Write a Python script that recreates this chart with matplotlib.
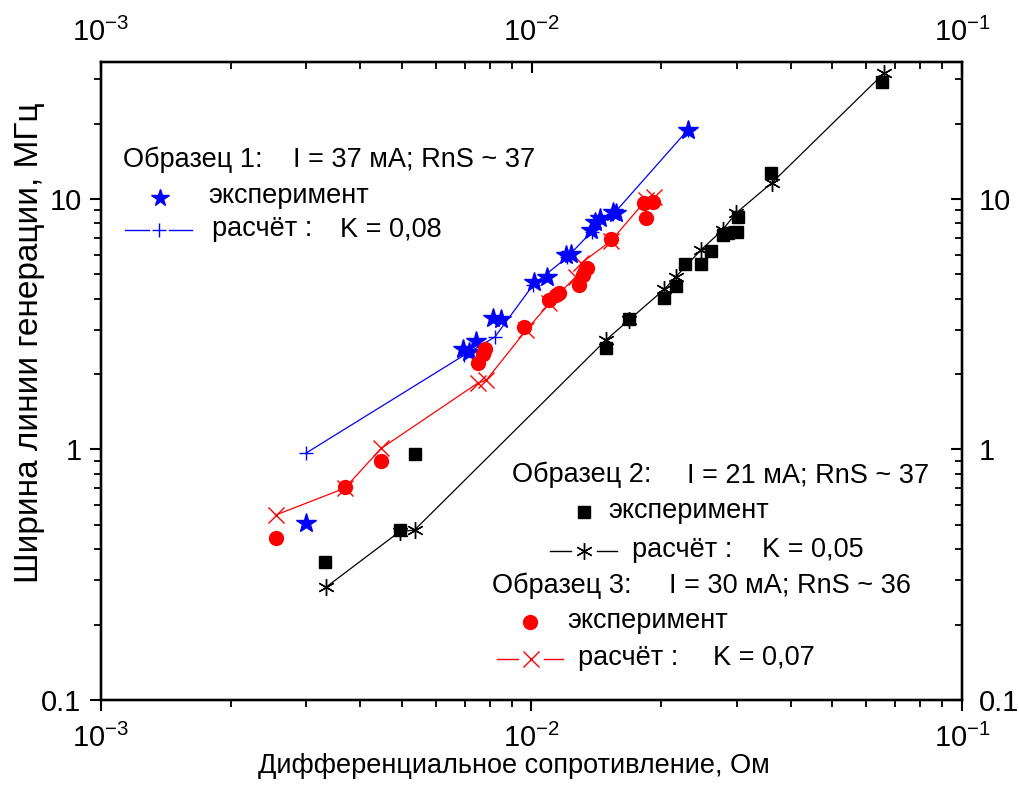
import math
import matplotlib
matplotlib.use('Agg')
import matplotlib.pyplot as plt
from matplotlib.ticker import LogLocator, FuncFormatter, NullFormatter
from matplotlib.lines import Line2D

# ---------------- data ----------------
# Sample 1 (blue): experiment (stars) and calculation (+)
s1_exp_x = [0.00300, 0.00695, 0.00717, 0.00744, 0.00813, 0.00851, 0.01011, 0.01085,
            0.01204, 0.01236, 0.01376, 0.01401, 0.01439, 0.01544, 0.01572, 0.02305]
s1_exp_y = [0.507, 2.51, 2.45, 2.72, 3.34, 3.31, 4.68, 4.90,
            5.98, 6.03, 7.52, 8.12, 8.37, 8.90, 8.77, 18.86]
s1_calc_x = [0.00299, 0.00698, 0.00822, 0.0101, 0.0121, 0.0138, 0.0155, 0.0231]
s1_calc_y = [0.966, 2.38, 2.81, 4.55, 5.85, 7.4, 8.7, 18.9]

# Sample 2 (black): experiment (squares) and calculation (asterisks)
s2_exp_x = [0.00331, 0.00494, 0.00535, 0.01491, 0.01689, 0.02035, 0.02166, 0.02277,
            0.02476, 0.02612, 0.02779, 0.02855, 0.02995, 0.03011, 0.03598, 0.06533]
s2_exp_y = [0.356, 0.477, 0.959, 2.535, 3.31, 4.02, 4.50, 5.50,
            5.50, 6.20, 7.18, 7.30, 7.40, 8.50, 12.66, 29.4]
s2_calc_x = [0.00334, 0.00494, 0.00535, 0.01491, 0.01689, 0.02035, 0.02166, 0.02476,
             0.02779, 0.02985, 0.03618, 0.06592]
s2_calc_y = [0.283, 0.470, 0.477, 2.74, 3.30, 4.36, 4.90, 6.26,
             7.52, 8.77, 11.6, 31.8]

# Sample 3 (red): experiment (circles) and calculation (x)
s3_exp_x = [0.00255, 0.00368, 0.00448, 0.00750, 0.00772, 0.00778, 0.00963, 0.01101,
            0.01141, 0.01161, 0.01292, 0.01320, 0.01349, 0.01530, 0.01846, 0.01829, 0.01911]
s3_exp_y = [0.442, 0.710, 0.902, 2.21, 2.40, 2.52, 3.09, 3.95,
            4.14, 4.23, 4.54, 4.97, 5.30, 6.90, 8.37, 9.61, 9.75]
s3_calc_x = [0.00255, 0.00368, 0.00448, 0.00750, 0.00785, 0.00973, 0.01101, 0.01269,
             0.01304, 0.01530, 0.01846, 0.01930]
s3_calc_y = [0.548, 0.700, 1.011, 1.84, 1.89, 3.00, 3.83, 4.90,
             5.54, 6.8, 9.91, 10.2]

x_limits = [1e-3, 1e-1]
y_limits = [0.1, 35.2]

xlabel = "Дифференциальное сопротивление, Ом"
ylabel = "Ширина линии генерации, МГц"

# ---------------- style ----------------
FONT = ['Liberation Sans', 'DejaVu Sans']
plt.rcParams['font.family'] = FONT
plt.rcParams['mathtext.fontset'] = 'custom'
plt.rcParams['mathtext.rm'] = 'Liberation Sans'
plt.rcParams['mathtext.it'] = 'Liberation Sans:italic'
plt.rcParams['mathtext.bf'] = 'Liberation Sans:bold'

W, H = 1020, 785
fig = plt.figure(figsize=(W / 100, H / 100), dpi=100)
L, R, T, B = 101, 962, 62, 700
ax = fig.add_axes([L / W, 1 - B / H, (R - L) / W, (B - T) / H])

BLUE = '#0000ff'
RED = '#ff0000'
BLACK = '#000000'
ASTER = (6, 2, 0)

# calculation lines
ax.plot(s1_calc_x, s1_calc_y, color=BLUE, lw=0.9, marker='+', ms=10, mew=1.0, zorder=2)
ax.plot(s2_calc_x, s2_calc_y, color=BLACK, lw=0.9, marker=ASTER, ms=12, mew=1.0, zorder=2)
ax.plot(s3_calc_x, s3_calc_y, color=RED, lw=0.9, marker='x', ms=11, mew=1.0, zorder=2)
# experiments
ax.plot(s1_exp_x, s1_exp_y, linestyle='none', marker='*', ms=15, color=BLUE, mec=BLUE, zorder=3)
ax.plot(s2_exp_x, s2_exp_y, linestyle='none', marker='s', ms=9, color=BLACK, zorder=3)
ax.plot(s3_exp_x, s3_exp_y, linestyle='none', marker='o', ms=10, color=RED, zorder=3)

ax.set_xscale('log')
ax.set_yscale('log')
ax.set_xlim(*x_limits)
ax.set_ylim(*y_limits)


def ylab(v, pos):
    return '%g' % v


def xlab(v, pos):
    e = int(round(math.log10(v)))
    return r'$\mathregular{10^{%d}}$' % e


def setup_x(a):
    a.xaxis.set_major_locator(LogLocator(base=10, numticks=10))
    a.xaxis.set_minor_locator(LogLocator(base=10, subs=range(2, 10), numticks=20))
    a.xaxis.set_major_formatter(FuncFormatter(xlab))
    a.xaxis.set_minor_formatter(NullFormatter())


def setup_y(a):
    a.yaxis.set_major_locator(LogLocator(base=10, numticks=10))
    a.yaxis.set_minor_locator(LogLocator(base=10, subs=range(2, 10), numticks=20))
    a.yaxis.set_major_formatter(FuncFormatter(ylab))
    a.yaxis.set_minor_formatter(NullFormatter())


setup_x(ax)
setup_y(ax)
ax.tick_params(which='major', direction='out', length=8, width=1.5, labelsize=21, pad=6)
ax.tick_params(which='minor', direction='out', length=5, width=1.3)
ax.tick_params(axis='x', which='major', pad=9)

# top axis
axt = ax.twiny()
axt.set_xscale('log')
axt.set_xlim(*x_limits)
setup_x(axt)
axt.tick_params(which='major', direction='in', length=8, width=1.5, labelsize=21, pad=11)
axt.tick_params(which='minor', direction='in', length=5, width=1.3)

# right axis
axr = ax.twinx()
axr.set_yscale('log')
axr.set_ylim(*y_limits)
setup_y(axr)
axr.tick_params(which='major', direction='in', length=8, width=1.5, labelsize=21, pad=12)
axr.tick_params(which='minor', direction='in', length=5, width=1.3)

for a in (ax, axt, axr):
    for s in a.spines.values():
        s.set_linewidth(1.6)

# axis labels
ax.set_xlabel(xlabel, fontsize=19.5)
ax.xaxis.set_label_coords((514 - L) / (R - L), (B - 766) / (B - T))
ax.xaxis.label.set_va('center')
ax.set_ylabel(ylabel, fontsize=24)
ax.yaxis.set_label_coords((30 - L) / (R - L), (B - 343) / (B - T))
ax.yaxis.label.set_va('center')

# ---------------- legend blocks (manual layout) ----------------
def fx(px):
    return px / W


def fy(py):
    return 1 - py / H


LFS = 19.5


def txt(px, py, s):
    fig.text(fx(px), fy(py), s, fontsize=LFS, ha='left', va='center')


def seg(x1, x2, py, color):
    fig.add_artist(Line2D([fx(x1), fx(x2)], [fy(py), fy(py)], transform=fig.transFigure,
                          color=color, lw=1.0))


def glyph_marker(px, py, color, marker, ms, mew=1.0):
    fig.add_artist(Line2D([fx(px)], [fy(py)], transform=fig.transFigure,
                          color=color, marker=marker, ms=ms, mew=mew, linestyle='none'))


# block 1
txt(123, 160, "Образец 1:")
txt(293, 160, "I = 37 мА; RnS ~ 37")
glyph_marker(160, 198, BLUE, '*', 13)
txt(208, 196, "эксперимент")
seg(125, 149, 230, BLUE)
glyph_marker(159, 230, BLUE, '+', 10)
seg(169, 192, 230, BLUE)
txt(212, 229, "расчёт :")
txt(340, 229, "K = 0,08")

# block 2
txt(512, 475, "Образец 2:")
txt(687, 475, "I = 21 мА; RnS ~ 37")
glyph_marker(584, 512, BLACK, 's', 9)
txt(608, 511, "эксперимент")
seg(550, 571, 551, BLACK)
glyph_marker(584, 551, BLACK, ASTER, 12)
seg(597, 617, 551, BLACK)
txt(632, 550, "расчёт :")
txt(762, 550, "K = 0,05")

# block 3
txt(492, 586, "Образец 3:")
txt(669, 586, "I = 30 мА; RnS ~ 36")
glyph_marker(530, 622, RED, 'o', 10)
txt(567, 621, "эксперимент")
seg(497, 518, 659, RED)
glyph_marker(531, 659, RED, 'x', 11)
seg(544, 563, 659, RED)
txt(578, 658, "расчёт :")
txt(713, 658, "K = 0,07")

fig.savefig('out.png', dpi=100)
